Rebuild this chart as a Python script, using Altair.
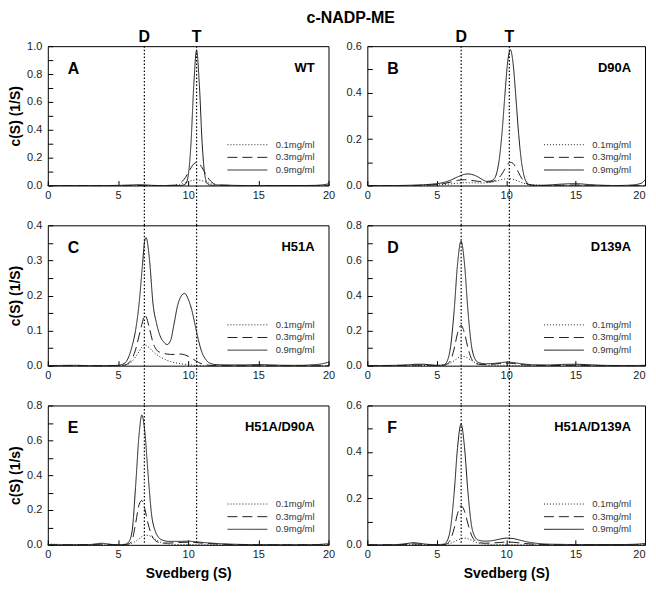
import altair as alt
import pandas as pd

FONT = "Liberation Sans"
CONC = ["0.1mg/ml", "0.3mg/ml", "0.9mg/ml"]
DASHES = [[1, 2], [10, 5], [1, 0]]

X_MAJOR = [0, 5, 10, 15, 20]
X_MINOR = [2.5, 7.5, 12.5, 17.5]

MARK_LABELS = ["D", "T"]
MARK_POS_LEFT = [6.88, 10.6]
MARK_POS_RIGHT = [6.76, 10.23]

# ---------------- Panel A : WT ----------------
XA = [0, 2, 4, 5, 6, 6.5, 7, 7.5, 8, 9, 9.2, 9.4, 9.6, 9.8, 10.0, 10.2, 10.4, 10.6, 10.8, 11.0,
      11.2, 11.4, 11.6, 11.8, 12.0, 12.4, 13, 14, 15, 16, 17, 18, 19, 19.5, 19.8, 20]
A09 = [0, 0, 0, 0.001, 0.004, 0.006, 0.004, 0.001, 0, 0, 0, 0, 0.002, 0.01, 0.068, 0.30, 0.72, 0.97, 0.72, 0.30,
       0.068, 0.01, 0.002, 0.001, 0.003, 0.004, 0.002, 0, 0, 0, 0, 0, 0.001, 0.004, 0.008, 0.012]
A03 = [0, 0, 0, 0, 0, 0, 0, 0, 0, 0.002, 0.006, 0.015, 0.032, 0.057, 0.091, 0.127, 0.155, 0.165, 0.155, 0.127,
       0.091, 0.057, 0.032, 0.015, 0.006, 0.001, 0, 0, 0, 0, 0, 0, 0, 0, 0, 0.001]
A01 = [0, 0, 0, 0, 0, 0, 0, 0, 0, 0.001, 0.003, 0.007, 0.013, 0.02, 0.028, 0.034, 0.038, 0.04, 0.038, 0.034,
       0.028, 0.02, 0.013, 0.007, 0.003, 0.001, 0, 0, 0, 0, 0, 0, 0, 0, 0, 0]

# ---------------- Panel B : D90A ----------------
XB = [0, 2, 3, 4, 4.5, 5, 5.5, 6, 6.5, 7, 7.25, 7.5, 8, 8.3, 8.6, 8.9, 9.1, 9.3, 9.5, 9.7, 9.9, 10.1,
      10.3, 10.5, 10.7, 10.9, 11.1, 11.3, 11.5, 11.7, 12, 12.5, 13, 14, 15, 16, 17, 18, 19, 19.5, 19.8, 20]
B09 = [0, 0, 0.001, 0.003, 0.005, 0.008, 0.013, 0.023, 0.037, 0.048, 0.05, 0.048, 0.036, 0.025, 0.018, 0.02,
       0.027, 0.05, 0.112, 0.226, 0.383, 0.527, 0.585, 0.525, 0.38, 0.221, 0.104, 0.039, 0.012, 0.003, 0.001,
       0.001, 0.002, 0.006, 0.008, 0.004, 0.001, 0, 0.002, 0.006, 0.012, 0.025]
B03 = [0, 0, 0, 0.001, 0.002, 0.004, 0.008, 0.015, 0.022, 0.025, 0.024, 0.022, 0.018, 0.016, 0.015, 0.016,
       0.019, 0.025, 0.035, 0.05, 0.07, 0.092, 0.1, 0.095, 0.078, 0.055, 0.033, 0.017, 0.008, 0.003, 0.001,
       0, 0, 0.001, 0.002, 0.001, 0, 0, 0, 0, 0.001, 0.002]
B01 = [0, 0, 0, 0, 0.001, 0.002, 0.004, 0.007, 0.01, 0.012, 0.012, 0.012, 0.011, 0.011, 0.012, 0.014,
       0.016, 0.019, 0.022, 0.026, 0.028, 0.03, 0.029, 0.027, 0.023, 0.018, 0.013, 0.009, 0.006, 0.004, 0.002,
       0.001, 0, 0, 0, 0, 0, 0, 0, 0, 0, 0]

# ---------------- Panel C : H51A ----------------
XC = [0, 2, 3, 4, 5, 5.5, 6, 6.25, 6.5, 6.75, 6.9, 7.0, 7.25, 7.5, 7.75, 8.0, 8.25, 8.5, 8.75, 9.0,
      9.25, 9.5, 9.75, 10.0, 10.25, 10.5, 10.75, 11.0, 11.25, 11.5, 12, 13, 14, 15, 16, 17, 18, 19, 19.5, 20]
C09 = [0, 0.001, 0, 0, 0.001, 0.008, 0.055, 0.1, 0.175, 0.29, 0.355, 0.365, 0.30, 0.175, 0.12, 0.085,
       0.068, 0.06, 0.072, 0.12, 0.172, 0.198, 0.206, 0.19, 0.16, 0.115, 0.07, 0.036, 0.018, 0.008,
       0.003, 0.002, 0.002, 0.003, 0.002, 0.001, 0.001, 0.003, 0.005, 0.01]
C03 = [0, 0, 0, 0, 0, 0.002, 0.02, 0.045, 0.085, 0.125, 0.145, 0.14, 0.105, 0.065, 0.045, 0.038,
       0.035, 0.033, 0.032, 0.032, 0.033, 0.033, 0.031, 0.027, 0.021, 0.015, 0.009, 0.005, 0.003, 0.001,
       0, 0, 0, 0, 0, 0, 0, 0, 0, 0]
C01 = [0, 0, 0, 0, 0, 0.002, 0.012, 0.025, 0.04, 0.055, 0.06, 0.058, 0.05, 0.04, 0.032, 0.025,
       0.02, 0.015, 0.012, 0.009, 0.007, 0.005, 0.004, 0.003, 0.002, 0.001, 0.001, 0, 0, 0,
       0, 0, 0, 0, 0, 0, 0, 0, 0, 0]

# ---------------- Panel D : D139A ----------------
XD = [0, 1, 2, 3, 3.5, 4, 4.5, 5, 5.5, 5.75, 6.0, 6.25, 6.5, 6.75, 7.0, 7.25, 7.5, 7.75, 8.0, 8.5,
      9, 9.5, 10, 10.5, 11, 12, 13, 14, 15, 16, 17, 18, 19, 20]
D09 = [0.001, 0.001, 0.002, 0.005, 0.008, 0.008, 0.005, 0.002, 0.004, 0.026, 0.11, 0.31, 0.58, 0.71, 0.58,
       0.31, 0.115, 0.04, 0.018, 0.011, 0.012, 0.016, 0.02, 0.018, 0.012, 0.005, 0.004, 0.007, 0.008, 0.005,
       0.002, 0.001, 0.001, 0.002]
D03 = [0, 0, 0.001, 0.002, 0.003, 0.003, 0.002, 0.001, 0.002, 0.01, 0.03, 0.095, 0.185, 0.23, 0.185,
       0.1, 0.04, 0.015, 0.008, 0.006, 0.008, 0.012, 0.015, 0.013, 0.007, 0.002, 0.001, 0.001, 0.002, 0.001,
       0, 0, 0, 0]
D01 = [0, 0, 0, 0, 0, 0, 0, 0.001, 0.003, 0.008, 0.016, 0.028, 0.042, 0.052, 0.052,
       0.042, 0.03, 0.018, 0.01, 0.004, 0.002, 0.002, 0.002, 0.001, 0, 0, 0, 0, 0, 0,
       0, 0, 0, 0]

# ---------------- Panel E : H51A/D90A ----------------
XE = [0, 0.3, 1, 2, 3, 3.5, 3.8, 4.2, 4.6, 5, 5.5, 5.75, 6.0, 6.25, 6.5, 6.7, 6.9, 7.15, 7.4, 7.65,
      7.9, 8.2, 8.6, 9, 9.5, 10, 10.5, 11, 12, 13, 14, 15, 16, 17, 18, 19, 19.5, 20]
E09 = [0, 0, 0, 0.001, 0.002, 0.006, 0.009, 0.006, 0.002, 0.001, 0.003, 0.015, 0.075, 0.33, 0.63,
       0.745, 0.66, 0.40, 0.17, 0.08, 0.042, 0.026, 0.02, 0.02, 0.02, 0.021, 0.018, 0.014, 0.008, 0.004,
       0.002, 0.001, 0.001, 0, 0, 0.001, 0.003, 0.006]
E03 = [0, 0, 0, 0, 0.001, 0.003, 0.004, 0.003, 0.001, 0, 0.001, 0.005, 0.025, 0.12, 0.23,
       0.255, 0.21, 0.12, 0.055, 0.025, 0.014, 0.01, 0.01, 0.012, 0.014, 0.015, 0.013, 0.01, 0.005, 0.002,
       0.001, 0, 0, 0, 0, 0, 0, 0]
E01 = [0.005, 0.004, 0.002, 0.001, 0, 0, 0, 0, 0, 0, 0, 0.004, 0.01, 0.02, 0.035,
       0.047, 0.055, 0.055, 0.045, 0.032, 0.02, 0.01, 0.005, 0.003, 0.002, 0.002, 0.001, 0.001, 0, 0,
       0, 0, 0, 0, 0, 0, 0, 0]

# ---------------- Panel F : H51A/D139A ----------------
XF = [0, 1, 2, 2.5, 3, 3.3, 3.7, 4.2, 5, 5.5, 5.75, 6.0, 6.25, 6.5, 6.75, 7.0, 7.25, 7.5, 7.75, 8.0,
      8.5, 9, 9.5, 10, 10.5, 11, 11.5, 12, 13, 14, 15, 16, 17, 18, 19, 19.7, 20]
F09 = [0, 0, 0.001, 0.003, 0.007, 0.009, 0.007, 0.003, 0.001, 0.003, 0.017, 0.075, 0.22, 0.42, 0.52,
       0.42, 0.225, 0.085, 0.035, 0.02, 0.016, 0.018, 0.024, 0.029, 0.027, 0.02, 0.013, 0.008, 0.003, 0.002,
       0.001, 0.001, 0.001, 0.001, 0.002, 0.004, 0.006]
F03 = [0, 0, 0, 0.001, 0.003, 0.004, 0.003, 0.001, 0, 0.001, 0.005, 0.025, 0.07, 0.135, 0.168,
       0.145, 0.09, 0.042, 0.018, 0.01, 0.007, 0.008, 0.01, 0.012, 0.011, 0.008, 0.005, 0.003, 0.001, 0,
       0, 0, 0, 0, 0, 0, 0]
F01 = [0, 0, 0, 0, 0, 0, 0, 0, 0, 0, 0.003, 0.007, 0.013, 0.02, 0.026,
       0.029, 0.026, 0.02, 0.013, 0.008, 0.003, 0.002, 0.002, 0.002, 0.001, 0, 0, 0, 0, 0,
       0, 0, 0, 0, 0, 0, 0]

Y_MAJOR_10 = [0.0, 0.2, 0.4, 0.6, 0.8, 1.0]
Y_MINOR_10 = [0.1, 0.3, 0.5, 0.7, 0.9]
Y_MAJOR_06 = [0.0, 0.2, 0.4, 0.6]
Y_MINOR_06 = [0.1, 0.3, 0.5]
Y_MAJOR_04 = [0.0, 0.1, 0.2, 0.3, 0.4]
Y_MINOR_04 = [0.05, 0.15, 0.25, 0.35]
Y_MAJOR_08 = [0.0, 0.2, 0.4, 0.6, 0.8]
Y_MINOR_08 = [0.1, 0.3, 0.5, 0.7]

W_L, W_R = 282, 279
HEIGHTS = [140, 141, 140]
ROW_GAP = 40
COL_GAP = 39
TICK = 5


def panel(letter, name, xs, series, ymax, ymajor, yminor, width, height,
          left, top, bottom, ytitle, mark_pos):
    rows = []
    for conc, ys in zip(CONC, series):
        for x, y in zip(xs, ys):
            rows.append({"s": x, "c": y, "conc": conc})
    df = pd.DataFrame(rows)

    xaxis_kw = dict(values=sorted(X_MAJOR + X_MINOR),
                    labelExpr=f"indexof({X_MAJOR}, datum.value) >= 0 ? format(datum.value, 'd') : ''",
                    tickSize=TICK, offset=-TICK, domain=False, grid=False, labelPadding=4,
                    labelFlush=False, titlePadding=7)
    if not left:
        xaxis_kw["labelAlign"] = {"condition": {"test": "datum.value == 20", "value": "right"},
                                  "value": "center"}
    xaxis_kw["title"] = "Svedberg (S)" if bottom else None
    yaxis_kw = dict(values=sorted(ymajor + yminor),
                    labelExpr=f"indexof({ymajor}, datum.value) >= 0 ? format(datum.value, '.1f') : ''",
                    tickSize=TICK, offset=-TICK, domain=False, grid=False, labelPadding=6,
                    titlePadding=4)
    yaxis_kw["title"] = ytitle if left else None

    lines = alt.Chart(df).mark_line(color="#1a1a1a", strokeWidth=1, interpolate="monotone").encode(
        x=alt.X("s:Q", scale=alt.Scale(domain=[0, 20], nice=False, zero=False), axis=alt.Axis(**xaxis_kw)),
        y=alt.Y("c:Q", scale=alt.Scale(domain=[0, ymax], nice=False), axis=alt.Axis(**yaxis_kw)),
        strokeDash=alt.StrokeDash(
            "conc:N",
            scale=alt.Scale(domain=CONC, range=DASHES),
            legend=alt.Legend(title=None, orient="none", legendX=width - 102, legendY=height - 47,
                              symbolType="stroke",
                              symbolSize=1600, symbolStrokeWidth=1, symbolStrokeColor="#222",
                              labelFont=FONT, labelFontSize=9.5, labelColor="#333",
                              labelOffset=8, rowPadding=0.7, clipHeight=12, padding=0),
        ),
    )

    mk = pd.DataFrame({"s": mark_pos, "lab": MARK_LABELS})
    rules = alt.Chart(mk).mark_rule(color="black", strokeWidth=1.2, strokeDash=[1.5, 2]).encode(
        x=alt.X("s:Q"),
        y=alt.value(0),
        y2=alt.value(height + (0 if bottom else ROW_GAP)),
    )

    lab = pd.DataFrame({"t": [letter], "n": [name]})
    letter_txt = alt.Chart(lab).mark_text(align="left", baseline="alphabetic", fontSize=16,
                                          fontWeight="bold", font=FONT, color="black").encode(
        x=alt.value(20), y=alt.value(28), text="t:N")
    name_txt = alt.Chart(lab).mark_text(align="right", baseline="alphabetic", fontSize=13,
                                        fontWeight="bold", font=FONT, color="black").encode(
        x=alt.value(width - 14), y=alt.value(26), text="n:N")

    layers = [lines, rules, letter_txt, name_txt]
    if top:
        dt = alt.Chart(mk).mark_text(baseline="alphabetic", fontSize=16, fontWeight="bold",
                                     font=FONT, color="black").encode(
            x=alt.X("s:Q"), y=alt.value(-4), text="lab:N")
        layers.append(dt)
    return alt.layer(*layers).properties(width=width, height=height)


pA = panel("A", "WT", XA, [A01, A03, A09], 1.0, Y_MAJOR_10, Y_MINOR_10, W_L, HEIGHTS[0],
           True, True, False, "c(S) (1/S)", MARK_POS_LEFT)
pB = panel("B", "D90A", XB, [B01, B03, B09], 0.6, Y_MAJOR_06, Y_MINOR_06, W_R, HEIGHTS[0],
           False, True, False, "", MARK_POS_RIGHT)
pC = panel("C", "H51A", XC, [C01, C03, C09], 0.4, Y_MAJOR_04, Y_MINOR_04, W_L, HEIGHTS[1],
           True, False, False, "c(S) (1/S)", MARK_POS_LEFT)
pD = panel("D", "D139A", XD, [D01, D03, D09], 0.8, Y_MAJOR_08, Y_MINOR_08, W_R, HEIGHTS[1],
           False, False, False, "", MARK_POS_RIGHT)
pE = panel("E", "H51A/D90A", XE, [E01, E03, E09], 0.8, Y_MAJOR_08, Y_MINOR_08, W_L, HEIGHTS[2],
           True, False, True, "c(S) (1/s)", MARK_POS_LEFT)
pF = panel("F", "H51A/D139A", XF, [F01, F03, F09], 0.6, Y_MAJOR_06, Y_MINOR_06, W_R, HEIGHTS[2],
           False, False, True, "", MARK_POS_RIGHT)

chart = alt.concat(
    pA, pB, pC, pD, pE, pF,
    columns=2,
    spacing={"row": ROW_GAP, "column": COL_GAP},
    bounds="flush",
    title=alt.TitleParams("c-NADP-ME", fontSize=16, fontWeight="bold", font=FONT,
                          anchor="middle", offset=3, dx=23, color="black"),
).resolve_legend(strokeDash="independent").properties(
    padding={"left": 0, "top": 0, "right": 0, "bottom": 0}
).configure_view(stroke="black", strokeWidth=1).configure_axis(
    labelFont=FONT, titleFont=FONT, labelFontSize=11, labelColor="#222",
    titleFontSize=14, titleFontWeight="bold", titleColor="black",
    tickColor="black", tickWidth=1,
)

chart.save("out.html", embed_options={"renderer": "svg", "actions": False})
